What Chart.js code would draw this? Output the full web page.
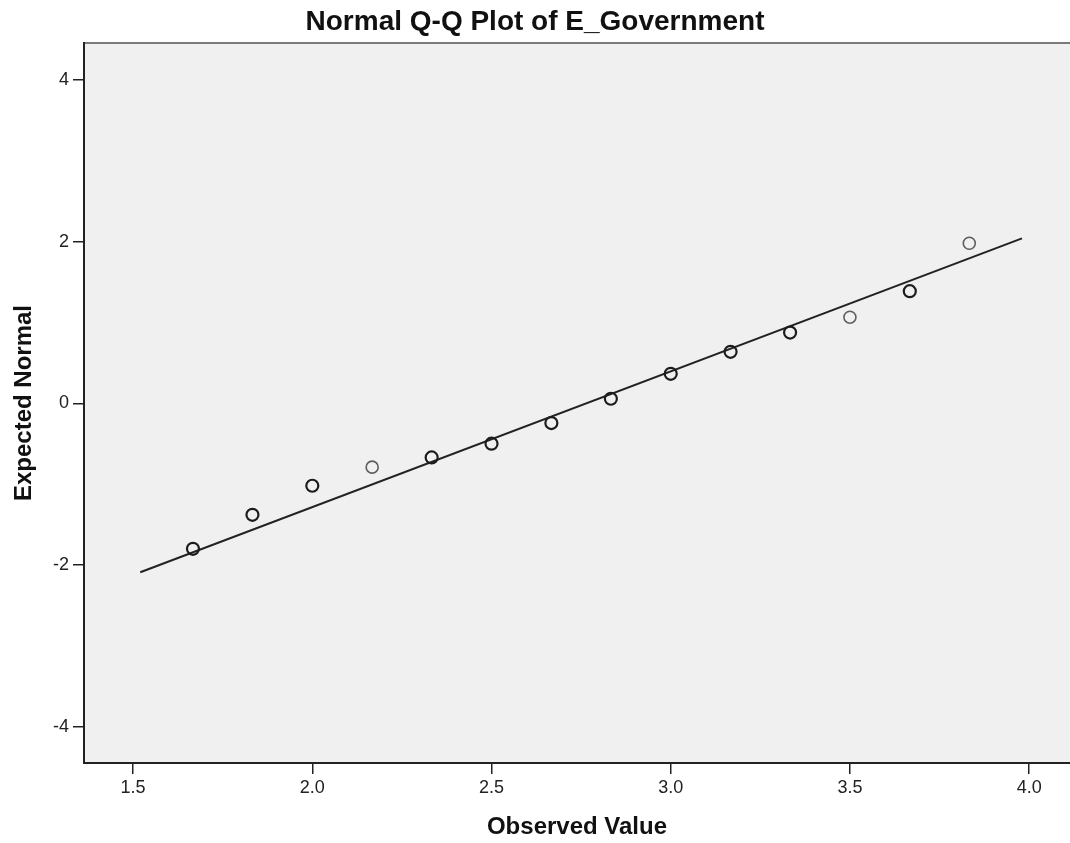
<!DOCTYPE html>
<html lang="en">
<head>
    <meta charset="UTF-8">
    <title>Normal Q-Q Plot of E_Government</title>
    <script src="https://cdn.jsdelivr.net/npm/chart.js"></script>
    <style>
        body {
            margin: 0;
            background: white;
        }
        #wrap {
            width: 1070px;
            height: 843px;
        }
    </style>
</head>
<body>
    <div id="wrap">
        <canvas id="qqChart" width="1070" height="843"></canvas>
    </div>
    <script>
        // Observed values and their expected normal scores
        const observed = [1.667, 1.833, 2.0, 2.167, 2.333, 2.5, 2.667, 2.833, 3.0, 3.167, 3.333, 3.5, 3.667, 3.833];
        const expected = [-1.80, -1.38, -1.02, -0.79, -0.67, -0.50, -0.245, 0.056, 0.365, 0.637, 0.875, 1.065, 1.387, 1.98];

        // reference line end points
        const lineX = [1.52, 3.98];
        const lineY = [-2.09, 2.04];

        const xTicks = [1.5, 2.0, 2.5, 3.0, 3.5, 4.0];
        const yTicks = [-4, -2, 0, 2, 4];

        const fontFamily = "'Liberation Sans', Arial, sans-serif";
        const ink = '#222';

        // plot background and frame
        const plotFrame = {
            id: 'plotFrame',
            beforeDraw(chart) {
                const { ctx, chartArea: a } = chart;
                ctx.save();
                ctx.fillStyle = '#f0f0f0';
                ctx.fillRect(a.left, a.top, a.right - a.left, a.bottom - a.top);
                ctx.strokeStyle = '#7a7a7a';
                ctx.lineWidth = 2;
                ctx.beginPath();
                ctx.moveTo(a.left, a.top);
                ctx.lineTo(a.right, a.top);
                ctx.stroke();
                ctx.restore();
            }
        };

        const points = observed.map((x, i) => ({ x: x, y: expected[i] }));
        const fitLine = lineX.map((x, i) => ({ x: x, y: lineY[i] }));

        new Chart(document.getElementById('qqChart'), {
            type: 'scatter',
            data: {
                datasets: [
                    {
                        label: 'Observed',
                        data: points,
                        showLine: false,
                        pointStyle: 'circle',
                        pointRadius: 6,
                        pointHoverRadius: 6,
                        backgroundColor: 'rgba(0,0,0,0)',
                        pointBorderColor: ctx => [3, 11, 13].includes(ctx.dataIndex) ? '#5e5e5e' : '#1c1c1c',
                        pointBorderWidth: ctx => [3, 11, 13].includes(ctx.dataIndex) ? 1.6 : 2.2
                    },
                    {
                        label: 'Normal line',
                        data: fitLine,
                        showLine: true,
                        borderColor: ink,
                        borderWidth: 2,
                        pointRadius: 0,
                        pointHoverRadius: 0
                    }
                ]
            },
            options: {
                responsive: false,
                animation: false,
                layout: {
                    autoPadding: false,
                    padding: { top: 0, left: 0, right: 0, bottom: 0 }
                },
                plugins: {
                    legend: { display: false },
                    tooltip: { enabled: false },
                    title: {
                        display: true,
                        text: 'Normal Q-Q Plot of E_Government',
                        color: '#111',
                        font: { family: fontFamily, size: 28, weight: 'bold' },
                        padding: { top: 5, bottom: 4.4 }
                    }
                },
                scales: {
                    x: {
                        type: 'linear',
                        min: 1.363,
                        max: 4.114,
                        afterBuildTicks: scale => {
                            scale.ticks = xTicks.map(v => ({ value: v }));
                        },
                        afterFit: scale => {
                            scale.height = 80;
                            scale.paddingLeft = 0;
                            scale.paddingRight = 0;
                        },
                        grid: {
                            display: true,
                            drawOnChartArea: false,
                            drawTicks: true,
                            tickLength: 11,
                            color: ink,
                            lineWidth: 1.5
                        },
                        border: { display: true, color: ink, width: 2 },
                        ticks: {
                            color: ink,
                            padding: 3,
                            maxRotation: 0,
                            font: { family: fontFamily, size: 18 },
                            callback: v => Number(v).toFixed(1)
                        },
                        title: {
                            display: true,
                            text: 'Observed Value',
                            color: '#111',
                            font: { family: fontFamily, size: 24, weight: 'bold' },
                            padding: { top: 0, bottom: 1 }
                        }
                    },
                    y: {
                        type: 'linear',
                        min: -4.45,
                        max: 4.457,
                        afterBuildTicks: scale => {
                            scale.ticks = yTicks.map(v => ({ value: v }));
                        },
                        afterFit: scale => {
                            scale.width = 84;
                            scale.paddingTop = 0;
                            scale.paddingBottom = 0;
                        },
                        grid: {
                            display: true,
                            drawOnChartArea: false,
                            drawTicks: true,
                            tickLength: 11,
                            color: ink,
                            lineWidth: 1.5
                        },
                        border: { display: true, color: ink, width: 2 },
                        ticks: {
                            color: ink,
                            padding: 4,
                            font: { family: fontFamily, size: 18 },
                            callback: v => String(v)
                        },
                        title: {
                            display: true,
                            text: 'Expected Normal',
                            color: '#111',
                            font: { family: fontFamily, size: 24, weight: 'bold' },
                            padding: { top: 10, bottom: 0 }
                        }
                    }
                }
            },
            plugins: [plotFrame]
        });
    </script>
</body>
</html>
